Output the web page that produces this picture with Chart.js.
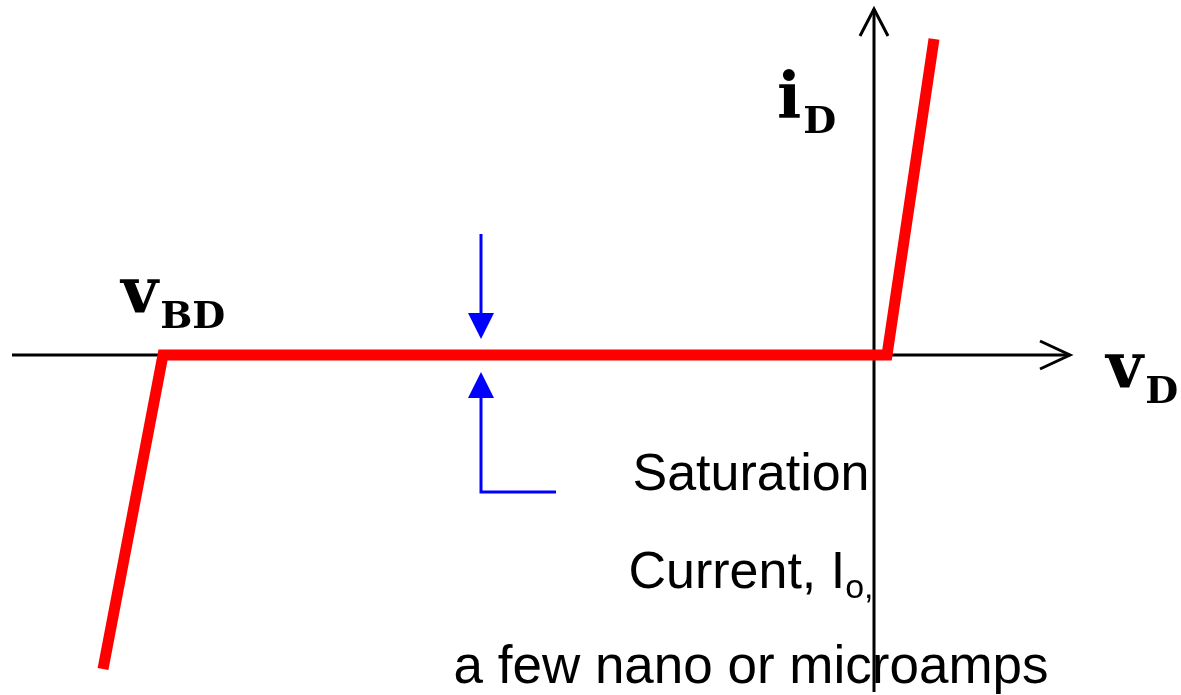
<!DOCTYPE html>
<html>
<head>
<meta charset="utf-8">
<script src="https://cdn.jsdelivr.net/npm/chart.js@4"></script>
<style>
  html, body { margin: 0; padding: 0; background: #fff; }
  #wrap { width: 1181px; height: 695px; }
</style>
</head>
<body>
<div id="wrap"><canvas id="diodeChart"></canvas></div>
<script>
// diode characteristic, in plot units (origin at the axes crossing)
const curveV = [-7.71, -7.11, 0.13, 0.60];
const curveI = [-3.14, 0, 0, 3.16];

// saturation current marker
const markerV = -3.93;
const markerTopI = [1.21, 0.16];       // downward arrow: start, tip
const markerBottomI = [-1.37, -0.17];  // upward arrow: start, tip
const markerTailV = -3.18;

const axisMinV = -8.62, axisMaxV = 1.96;
const axisMinI = -3.37, axisMaxI = 3.46;

const noteLines = ['Saturation', 'Current, I', 'a few nano or microamps'];

const slab = "'DejaVu Serif','Liberation Serif',serif";
const sans = "'Liberation Sans',Arial,sans-serif";

function arrowHead(c, tipX, tipY, dx, dy, len, half, filled) {
  const bx = tipX - dx * len, by = tipY - dy * len;
  const px = -dy * half, py = dx * half;
  c.beginPath();
  c.moveTo(bx + px, by + py);
  c.lineTo(tipX, tipY);
  c.lineTo(bx - px, by - py);
  if (filled) { c.closePath(); c.fill(); } else c.stroke();
}

function subLabel(c, x, y, main, sub) {
  c.font = 'bold 64px ' + slab;
  c.fillText(main, x, y);
  const w = c.measureText(main).width;
  c.font = 'bold 38px ' + slab;
  c.fillText(sub, x + w + 2, y + 16);
}

const diagramPlugin = {
  id: 'diagram',
  beforeDatasetsDraw(chart) {
    const c = chart.ctx;
    const xs = chart.scales.x, ys = chart.scales.y;
    const ox = xs.getPixelForValue(0), oy = ys.getPixelForValue(0);
    c.save();
    c.strokeStyle = '#000';
    c.lineWidth = 3;
    c.lineCap = 'butt';
    // horizontal axis
    const hx0 = xs.getPixelForValue(axisMinV), hx1 = xs.getPixelForValue(axisMaxV);
    c.beginPath(); c.moveTo(hx0, oy); c.lineTo(hx1, oy); c.stroke();
    arrowHead(c, hx1, oy, 1, 0, 30, 14, false);
    // vertical axis
    const vy0 = ys.getPixelForValue(axisMinI), vy1 = ys.getPixelForValue(axisMaxI);
    c.beginPath(); c.moveTo(ox, vy0); c.lineTo(ox, vy1); c.stroke();
    arrowHead(c, ox, vy1, 0, -1, 27, 14, false);
    c.restore();
  },
  afterDatasetsDraw(chart) {
    const c = chart.ctx;
    const xs = chart.scales.x, ys = chart.scales.y;
    c.save();
    // saturation current arrows
    const mx = xs.getPixelForValue(markerV);
    c.strokeStyle = '#0000ff';
    c.fillStyle = '#0000ff';
    c.lineWidth = 3;
    const dTop = ys.getPixelForValue(markerTopI[0]), dTip = ys.getPixelForValue(markerTopI[1]);
    c.beginPath(); c.moveTo(mx, dTop); c.lineTo(mx, dTip - 20); c.stroke();
    arrowHead(c, mx, dTip, 0, 1, 26, 13, true);
    const uBot = ys.getPixelForValue(markerBottomI[0]), uTip = ys.getPixelForValue(markerBottomI[1]);
    const tx = xs.getPixelForValue(markerTailV);
    c.beginPath(); c.moveTo(tx, uBot); c.lineTo(mx, uBot); c.lineTo(mx, uTip + 20); c.stroke();
    arrowHead(c, mx, uTip, 0, -1, 26, 13, true);

    // axis labels
    c.fillStyle = '#000';
    c.textAlign = 'left';
    c.textBaseline = 'alphabetic';
    subLabel(c, xs.getPixelForValue(-0.97), ys.getPixelForValue(2.38), 'i', 'D');
    subLabel(c, xs.getPixelForValue(-7.53), ys.getPixelForValue(0.43), 'v', 'BD');
    subLabel(c, xs.getPixelForValue(2.32), ys.getPixelForValue(-0.32), 'v', 'D');

    // note text, centred
    const cx = xs.getPixelForValue(-1.23);
    c.font = '52px ' + sans;
    c.textAlign = 'center';
    c.fillText(noteLines[0], cx, ys.getPixelForValue(-1.35));
    c.font = '53px ' + sans;
    c.fillText(noteLines[2], cx, ys.getPixelForValue(-3.28));
    // "Current, I" + subscript o + ","
    const y2 = ys.getPixelForValue(-2.33);
    c.textAlign = 'left';
    c.font = '52px ' + sans;
    const w1 = c.measureText(noteLines[1]).width;
    c.font = '34px ' + sans;
    const wo = c.measureText('o').width;
    const wc = c.measureText(',').width;
    const start = cx - (w1 + wo + wc) / 2;
    c.font = '52px ' + sans;
    c.fillText(noteLines[1], start, y2);
    c.font = '34px ' + sans;
    c.fillText('o', start + w1, y2 + 10);
    c.fillText(',', start + w1 + wo, y2 + 10);
    c.restore();
  }
};

const ctx = document.getElementById('diodeChart');
new Chart(ctx, {
  type: 'scatter',
  data: {
    datasets: [{
      data: curveV.map((v, i) => ({ x: v, y: curveI[i] })),
      showLine: true,
      borderColor: '#ff0000',
      borderWidth: 11,
      borderJoinStyle: 'miter',
      borderCapStyle: 'butt',
      pointRadius: 0,
      tension: 0
    }]
  },
  plugins: [diagramPlugin],
  options: {
    responsive: true,
    maintainAspectRatio: false,
    animation: false,
    layout: { padding: 0 },
    plugins: { legend: { display: false }, tooltip: { enabled: false } },
    scales: {
      x: { type: 'linear', display: false, min: -8.74, max: 3.07 },
      y: { type: 'linear', display: false, min: -3.40, max: 3.55 }
    }
  }
});
</script>
</body>
</html>
